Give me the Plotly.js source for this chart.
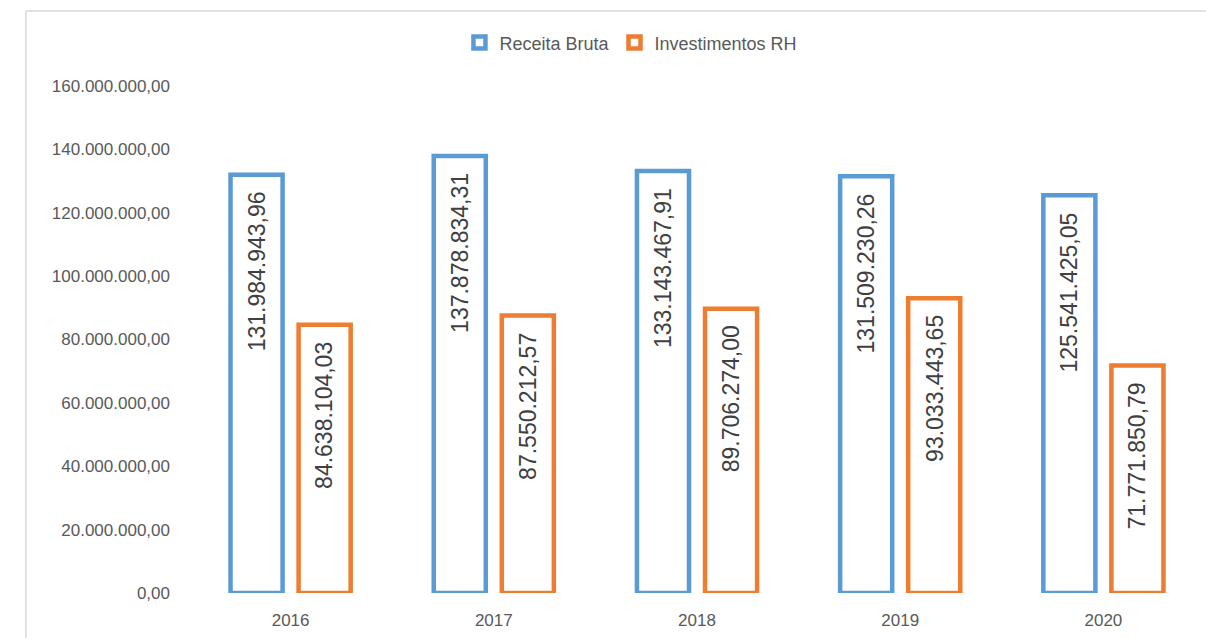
<!DOCTYPE html>
<html>
<head>
<meta charset="utf-8">
<script src="https://cdn.plot.ly/plotly-3.0.1.min.js"></script>
<style>
  html, body { margin: 0; padding: 0; background: #ffffff; }
  #chart { width: 1206px; height: 638px; }
</style>
</head>
<body>
<div id="chart"></div>
<script>
const years = ['2016', '2017', '2018', '2019', '2020'];
const receitaBruta = [131984943.96, 137878834.31, 133143467.91, 131509230.26, 125541425.05];
const investimentosRH = [84638104.03, 87550212.57, 89706274.00, 93033443.65, 71771850.79];
const yTickVals = [0, 20000000, 40000000, 60000000, 80000000, 100000000, 120000000, 140000000, 160000000];

const BLUE = '#5B9BD5';
const ORANGE = '#ED7D31';
const FONT = 'Liberation Sans, Arial, sans-serif';

function fmt(v) {
  const parts = v.toFixed(2).split('.');
  const intPart = parts[0].replace(/\B(?=(\d{3})+(?!\d))/g, '.');
  return intPart + ',' + parts[1];
}

const traces = [
  {
    type: 'bar', name: 'Receita Bruta', x: years, y: receitaBruta,
    marker: { color: '#ffffff', line: { color: BLUE, width: 4.5 } },
    hoverinfo: 'skip'
  },
  {
    type: 'bar', name: 'Investimentos RH', x: years, y: investimentosRH,
    marker: { color: '#ffffff', line: { color: ORANGE, width: 4.5 } },
    hoverinfo: 'skip'
  }
];

const annotations = [];
const series = [[receitaBruta, -34], [investimentosRH, 34]];
series.forEach(([vals, shift]) => {
  vals.forEach((v, i) => {
    annotations.push({
      x: i, y: v, xref: 'x', yref: 'y',
      text: fmt(v), showarrow: false, textangle: -90,
      xanchor: 'center', yanchor: 'top', xshift: shift, yshift: -15,
      font: { family: FONT, size: 23, color: '#404040' }
    });
  });
});

const layout = {
  width: 1206, height: 638,
  margin: { l: 189, r: 1, t: 86, b: 45 },
  paper_bgcolor: '#ffffff', plot_bgcolor: '#ffffff',
  barmode: 'group', bargap: 0.33, bargroupgap: 0.235,
  showlegend: true,
  legend: {
    orientation: 'h', x: 0.435, xanchor: 'center', y: 1.085, yanchor: 'middle',
    font: { family: FONT, size: 18, color: '#595959' },
    itemwidth: 30, traceorder: 'normal'
  },
  xaxis: {
    type: 'category', autorange: false, range: [-0.5, years.length - 0.5],
    showgrid: false, zeroline: false, showline: false,
    ticks: '', tickfont: { family: FONT, size: 17, color: '#595959' },
    ticklabelstandoff: 15
  },
  yaxis: {
    autorange: false, range: [0, 160000000], tickvals: yTickVals, ticktext: yTickVals.map(fmt),
    showgrid: false, zeroline: false, showline: false, ticks: '',
    tickfont: { family: FONT, size: 17, color: '#595959' },
    ticklabelstandoff: 18
  },
  annotations: annotations,
  shapes: [
    { type: 'line', xref: 'paper', yref: 'paper', x0: -0.1604, x1: -0.1604, y0: 1.148, y1: -0.2,
      line: { color: '#d9d9d9', width: 1.5 } },
    { type: 'line', xref: 'paper', yref: 'paper', x0: -0.1604, x1: 1.2, y0: 1.148, y1: 1.148,
      line: { color: '#d9d9d9', width: 1.5 } }
  ]
};

Plotly.newPlot('chart', traces, layout, { displayModeBar: false, staticPlot: true });
</script>
</body>
</html>
